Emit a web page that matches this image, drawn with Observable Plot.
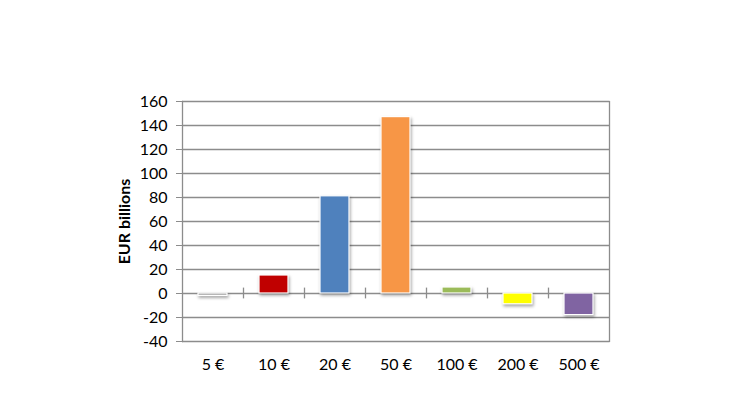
<!DOCTYPE html>
<html>
<head>
<meta charset="utf-8">
<script src="https://cdn.jsdelivr.net/npm/d3@7"></script>
<script src="https://cdn.jsdelivr.net/npm/@observablehq/plot@0.6"></script>
<style>
  html, body { margin: 0; padding: 0; background: #fff; }
  #chart svg { font-family: Lato, "Open Sans", sans-serif; }
  #chart g[aria-label="y-axis label"] text { font-weight: bold; font-size: 16px; }
  #chart g[aria-label="bar"] rect { filter: drop-shadow(1px 2px 1.5px rgba(0,0,0,0.35)); }
</style>
</head>
<body>
<div id="chart"></div>
<script>
const categories = ["5 €", "10 €", "20 €", "50 €", "100 €", "200 €", "500 €"];
const values = [-2, 15, 81, 147, 5, -9, -18];
const colors = ["#a6a6a6", "#c00000", "#4f81bd", "#f79646", "#9bbb59", "#ffff00", "#8064a2"];
const yTicks = [-40, -20, 0, 20, 40, 60, 80, 100, 120, 140, 160];

const data = categories.map((c, i) => ({ cat: c, value: values[i], color: colors[i] }));

const W = 730, H = 410, ML = 182, MR = 121, MT = 101, MB = 69;
const step = (W - ML - MR) / categories.length;

const chart = Plot.plot({
  width: W,
  height: H,
  marginLeft: ML,
  marginRight: MR,
  marginTop: MT,
  marginBottom: MB,
  style: { fontSize: "16px", color: "#000", background: "#fff" },
  x: { domain: categories, paddingInner: 0.52, paddingOuter: 0.26, label: null },
  y: { domain: [-40, 160], ticks: yTicks, label: "EUR billions" },
  color: { type: "identity" },
  marks: [
    Plot.ruleY(yTicks, { stroke: "#8c8c8c", strokeWidth: 1.3 }),
    Plot.frame({ anchor: "right", stroke: "#8c8c8c", strokeWidth: 1.3 }),
    Plot.frame({ anchor: "left", stroke: "#8c8c8c", strokeWidth: 1.3 }),
    Plot.ruleX(categories.slice(1), { x: d => d, y1: -4.5, y2: 4.5, dx: -step / 2, stroke: "#8c8c8c", strokeWidth: 1.3 }),
    Plot.barY(data, { x: "cat", y: "value", fill: "color", stroke: "#fff", strokeWidth: 1.2 }),
    Plot.axisY({ ticks: yTicks, tickFormat: d => String(d), tickSize: 6, tickPadding: 9, stroke: "#8c8c8c", label: "EUR billions", labelAnchor: "center", labelOffset: 64, labelArrow: "none" }),
    Plot.axisX({ tickSize: 0, tickPadding: 17, label: null })
  ]
});
document.getElementById("chart").appendChild(chart);
</script>
</body>
</html>
